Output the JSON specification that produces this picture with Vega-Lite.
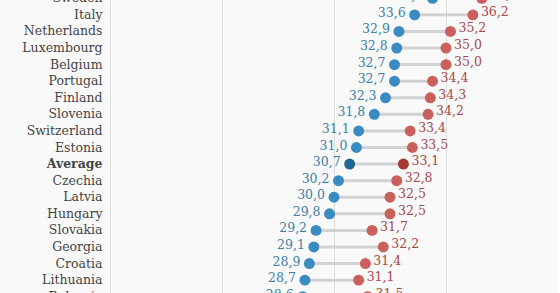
{
  "$schema": "https://vega.github.io/schema/vega-lite/v6.json",
  "autosize": {"type": "none"},
  "padding": {"left": 110, "top": -10, "right": 0, "bottom": 0},
  "width": 448,
  "height": 315,
  "background": "#faf9f9",
  "config": {
    "view": {"stroke": null},
    "font": "DejaVu Serif",
    "locale": {"number": {"decimal": ",", "thousands": ".", "grouping": [3], "currency": ["", " €"]}}
  },
  "data": {"values": [
    {"country": "Sweden", "a": 34.4, "b": 36.6},
    {"country": "Italy", "a": 33.6, "b": 36.2},
    {"country": "Netherlands", "a": 32.9, "b": 35.2},
    {"country": "Luxembourg", "a": 32.8, "b": 35.0},
    {"country": "Belgium", "a": 32.7, "b": 35.0},
    {"country": "Portugal", "a": 32.7, "b": 34.4},
    {"country": "Finland", "a": 32.3, "b": 34.3},
    {"country": "Slovenia", "a": 31.8, "b": 34.2},
    {"country": "Switzerland", "a": 31.1, "b": 33.4},
    {"country": "Estonia", "a": 31.0, "b": 33.5},
    {"country": "Average", "a": 30.7, "b": 33.1},
    {"country": "Czechia", "a": 30.2, "b": 32.8},
    {"country": "Latvia", "a": 30.0, "b": 32.5},
    {"country": "Hungary", "a": 29.8, "b": 32.5},
    {"country": "Slovakia", "a": 29.2, "b": 31.7},
    {"country": "Georgia", "a": 29.1, "b": 32.2},
    {"country": "Croatia", "a": 28.9, "b": 31.4},
    {"country": "Lithuania", "a": 28.7, "b": 31.1},
    {"country": "Bulgaria", "a": 28.6, "b": 31.5}
  ]},
  "encoding": {
    "y": {"field": "country", "type": "nominal", "sort": null, "title": null,
      "axis": {"domain": false, "ticks": false, "labelPadding": 8, "labelFontSize": 12.5, "labelColor": "#444444", "labelFont": "DejaVu Serif",
        "labelFontWeight": {"condition": {"test": "datum.value === 'Average'", "value": "bold"}, "value": "normal"}}}
  },
  "layer": [
    {"mark": {"type": "rule", "color": "#d2d2d2", "strokeWidth": 3},
     "encoding": {"x": {"field": "a", "type": "quantitative", "scale": {"domain": [20, 40], "nice": false, "zero": false}, "title": null,
        "axis": {"values": [20, 25, 30, 35], "labels": false, "ticks": false, "domain": false, "grid": true, "gridColor": "#dddddd", "gridWidth": 1}},
       "x2": {"field": "b"}}},
    {"mark": {"type": "point", "filled": true, "size": 120, "opacity": 1},
     "encoding": {"x": {"field": "a", "type": "quantitative"},
       "color": {"condition": {"test": "datum.country === 'Average'", "value": "#1f6590"}, "value": "#3a8bc2"}}},
    {"mark": {"type": "point", "filled": true, "size": 120, "opacity": 1},
     "encoding": {"x": {"field": "b", "type": "quantitative"},
       "color": {"condition": {"test": "datum.country === 'Average'", "value": "#a3382f"}, "value": "#c9605c"}}},
    {"mark": {"type": "text", "align": "right", "dx": -9, "dy": -2, "fontSize": 12.5, "color": "#3a7fa8"},
     "encoding": {"x": {"field": "a", "type": "quantitative"}, "text": {"field": "a", "type": "quantitative", "format": ".1f"}}},
    {"mark": {"type": "text", "align": "left", "dx": 8, "dy": -3, "fontSize": 12.5, "color": "#a8484a"},
     "encoding": {"x": {"field": "b", "type": "quantitative"}, "text": {"field": "b", "type": "quantitative", "format": ".1f"}}}
  ]
}
